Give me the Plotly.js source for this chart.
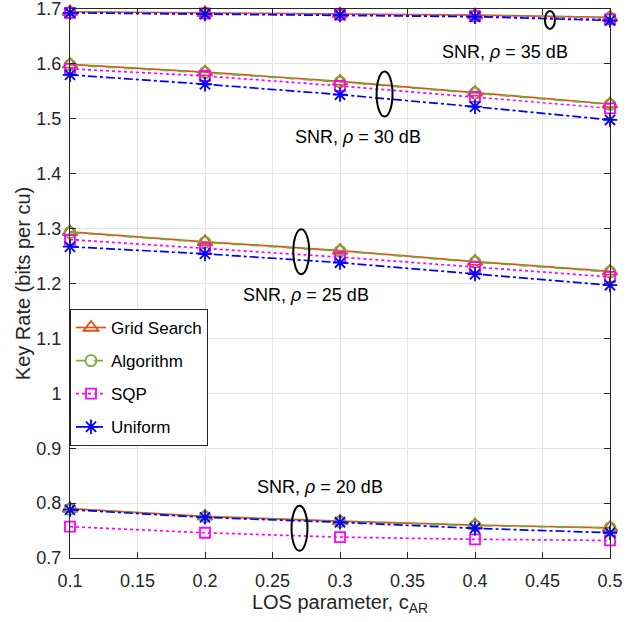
<!DOCTYPE html>
<html>
<head>
<meta charset="utf-8">
<script src="https://cdn.plot.ly/plotly-3.0.1.min.js"></script>
<style>html,body{margin:0;padding:0;background:#fff}#chart{width:644px;height:622px}</style>
</head>
<body>
<div id="chart"></div>
<script>
// ---- data ----
const cAR = [0.1, 0.2, 0.3, 0.4, 0.5];
const xTickVals = [0.1, 0.15, 0.2, 0.25, 0.3, 0.35, 0.4, 0.45, 0.5];
const xTickText = ['0.1', '0.15', '0.2', '0.25', '0.3', '0.35', '0.4', '0.45', '0.5'];
const yTickVals = [0.7, 0.8, 0.9, 1.0, 1.1, 1.2, 1.3, 1.4, 1.5, 1.6, 1.7];
const yTickText = ['0.7', '0.8', '0.9', '1', '1.1', '1.2', '1.3', '1.4', '1.5', '1.6', '1.7'];
const methods = ['Grid Search', 'Algorithm', 'SQP', 'Uniform'];

// Grid Search
const grid20 = [0.790, 0.776, 0.767, 0.760, 0.755];
const grid25 = [1.294, 1.276, 1.260, 1.240, 1.222];
const grid30 = [1.599, 1.585, 1.568, 1.548, 1.527];
const grid35 = [1.695, 1.693, 1.691, 1.689, 1.685];
// Algorithm
const alg20 = [0.789, 0.775, 0.766, 0.759, 0.755];
const alg25 = [1.293, 1.275, 1.259, 1.239, 1.221];
const alg30 = [1.598, 1.584, 1.567, 1.547, 1.526];
const alg35 = [1.694, 1.692, 1.690, 1.688, 1.684];
// SQP
const sqp20 = [0.757, 0.746, 0.738, 0.734, 0.732];
const sqp25 = [1.280, 1.264, 1.248, 1.230, 1.212];
const sqp30 = [1.591, 1.578, 1.560, 1.540, 1.519];
const sqp35 = [1.693, 1.692, 1.690, 1.687, 1.681];
// Uniform
const uni20 = [0.788, 0.774, 0.765, 0.754, 0.746];
const uni25 = [1.267, 1.254, 1.238, 1.217, 1.197];
const uni30 = [1.580, 1.563, 1.544, 1.522, 1.498];
const uni35 = [1.693, 1.691, 1.689, 1.686, 1.679];

// SNR labels and ellipse annotations
const snrText = ['SNR, <i>ρ</i> = 35 dB', 'SNR, <i>ρ</i> = 30 dB', 'SNR, <i>ρ</i> = 25 dB', 'SNR, <i>ρ</i> = 20 dB'];
const snrTextX = [0.422, 0.313, 0.275, 0.285];
const snrTextY = [1.622, 1.467, 1.179, 0.830];
const ellX = [0.4555, 0.333, 0.2713, 0.270];
const ellY = [1.680, 1.545, 1.258, 0.754];
const ellRx = [0.0037, 0.0059, 0.0059, 0.0059];
const ellRy = [0.0164, 0.041, 0.041, 0.041];

// ---- build ----
function joinGroups(groups) {
  const xs = [], ys = [];
  groups.forEach((g, i) => {
    if (i > 0) { xs.push(null); ys.push(null); }
    g.forEach((v, j) => { xs.push(cAR[j]); ys.push(v); });
  });
  return {x: xs, y: ys};
}
const styles = [
  {color: '#D95319', dash: 'solid', symbol: 'triangle-up-open', size: 13},
  {color: '#77AC30', dash: 'dash', symbol: 'circle-open', size: 11},
  {color: '#FF00FF', dash: 'dot', symbol: 'square-open', size: 10},
  {color: '#0000FF', dash: 'dashdot', symbol: 'asterisk-open', size: 12}
];
const seriesData = [
  [grid20, grid25, grid30, grid35],
  [alg20, alg25, alg30, alg35],
  [sqp20, sqp25, sqp30, sqp35],
  [uni20, uni25, uni30, uni35]
];
const traces = seriesData.map((groups, i) => {
  const d = joinGroups(groups);
  const s = styles[i];
  return {
    type: 'scatter', mode: 'lines+markers', name: methods[i],
    x: d.x, y: d.y, connectgaps: false, legendgroup: 'g' + i,
    line: {color: s.color, dash: s.dash, width: 1.7},
    marker: {symbol: s.symbol, size: s.size, color: s.color, line: {color: s.color, width: 1.8}},
    cliponaxis: false
  };
});

const annotations = snrText.map((t, i) => ({
  x: snrTextX[i], y: snrTextY[i], xref: 'x', yref: 'y', text: t, showarrow: false,
  font: {family: 'Liberation Sans, Arial, sans-serif', size: 18, color: '#000'},
  xanchor: 'center', yanchor: 'middle', bgcolor: 'rgba(255,255,255,0)'
}));
const shapes = ellX.map((cx, i) => ({
  type: 'circle', xref: 'x', yref: 'y',
  x0: cx - ellRx[i], x1: cx + ellRx[i], y0: ellY[i] - ellRy[i], y1: ellY[i] + ellRy[i],
  line: {color: '#000', width: 2}, fillcolor: 'rgba(0,0,0,0)'
}));

const axisCommon = {
  showgrid: true, gridcolor: '#e3e3e3', gridwidth: 1,
  ticks: 'inside', ticklen: 6, tickcolor: '#262626', tickwidth: 1,
  showline: true, linecolor: '#262626', linewidth: 1, mirror: 'ticks',
  zeroline: false, ticklabeloverflow: 'allow',
  tickfont: {family: 'Liberation Sans, Arial, sans-serif', size: 18, color: '#262626'}
};

const layout = {
  width: 644, height: 622,
  margin: {l: 70, r: 34, t: 9, b: 64},
  paper_bgcolor: '#fff', plot_bgcolor: '#fff',
  font: {family: 'Liberation Sans, Arial, sans-serif', color: '#262626'},
  xaxis: Object.assign({}, axisCommon, {
    range: [0.1, 0.5], tickvals: xTickVals, ticktext: xTickText, ticklabelstandoff: 6,
    title: {text: 'LOS parameter, c<sub>AR</sub>', font: {size: 20, color: '#262626'}, standoff: 0}
  }),
  yaxis: Object.assign({}, axisCommon, {
    range: [0.7, 1.7], tickvals: yTickVals, ticktext: yTickText, ticklabelstandoff: 4,
    title: {text: 'Key Rate (bits per cu)', font: {size: 20, color: '#262626'}, standoff: 0}
  }),
  showlegend: true,
  legend: {
    x: 0, y: 0.4536, xanchor: 'left', yanchor: 'top',
    bgcolor: '#fff', bordercolor: '#262626', borderwidth: 1,
    font: {family: 'Liberation Sans, Arial, sans-serif', size: 17, color: '#000'},
    tracegroupgap: 8, traceorder: 'grouped'
  },
  annotations: annotations,
  shapes: shapes
};

Plotly.newPlot('chart', traces, layout, {displayModeBar: false, staticPlot: true});
</script>
</body>
</html>
